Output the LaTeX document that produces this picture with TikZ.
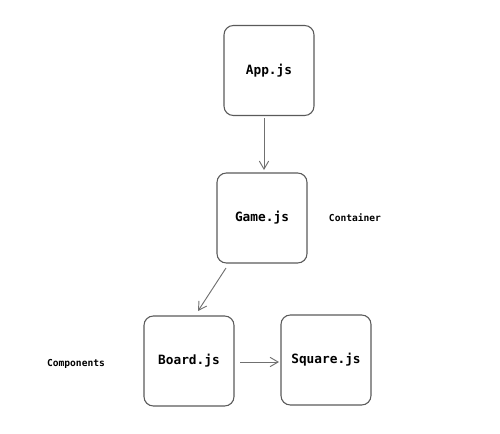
\documentclass[tikz,border=0pt]{standalone}
\usepackage{fontspec}
\setmonofont{DejaVu Sans Mono}
\usetikzlibrary{arrows.meta}
\definecolor{edge}{HTML}{5A5A5A}
\definecolor{arrowc}{HTML}{707070}
\tikzset{
  filebox/.style={draw=edge, line width=0.8pt, rounded corners=7pt, minimum width=67.5pt, minimum height=67.5pt, inner sep=0pt, font=\ttfamily\fontsize{9.6}{11}\selectfont\bfseries},
  lbl/.style={font=\ttfamily\fontsize{7.2}{9}\selectfont\bfseries, inner sep=0pt},
  conn/.style={draw=arrowc, line width=0.7pt, -{Straight Barb[length=6pt,width=7pt]}}
}
\begin{document}
\begin{tikzpicture}[x=0.75pt,y=-0.75pt]
\useasboundingbox (0,0) rectangle (500,433);
\node[filebox] (app) at (269,70.5) {App.js};
\node[filebox] (game) at (262,218) {Game.js};
\node[filebox] (board) at (189,361) {Board.js};
\node[filebox] (square) at (326,360) {Square.js};
\node[lbl] (cont) at (355,218) {Container};
\node[lbl] (comp) at (76,364) {Components};
\coordinate (a1) at (264,118);
\coordinate (a2) at (264,170);
\coordinate (b1) at (226,268);
\coordinate (b2) at (198,311);
\coordinate (c1) at (240,362);
\coordinate (c2) at (279,362);
\draw[conn] (a1) -- (a2);
\draw[conn] (b1) -- (b2);
\draw[conn] (c1) -- (c2);
\end{tikzpicture}
\end{document}
